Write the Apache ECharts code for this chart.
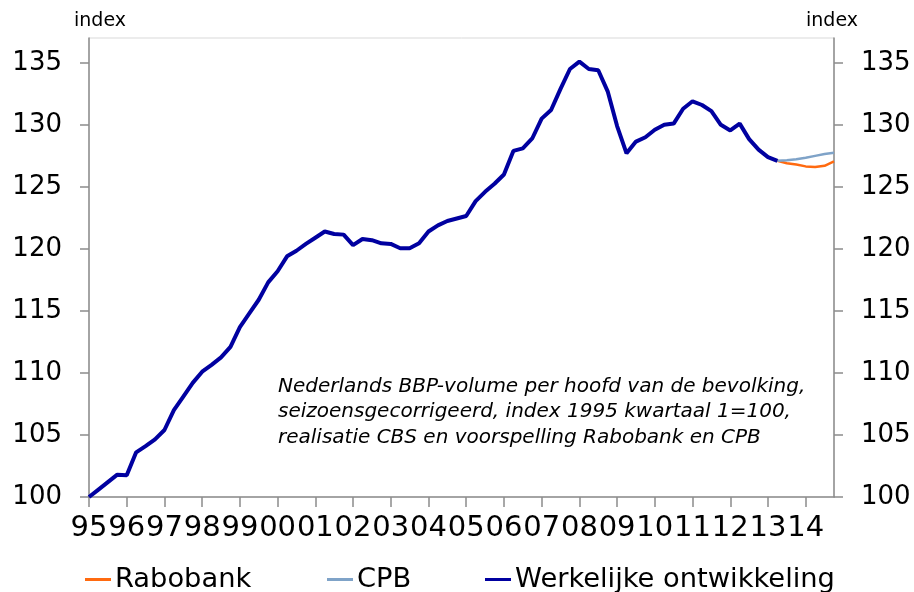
<!DOCTYPE html>
<html>
<head>
<meta charset="utf-8">
<title>BBP-volume per hoofd</title>
<script src="https://cdn.jsdelivr.net/npm/echarts@6/dist/echarts.min.js"></script>
<style>
  html, body { margin: 0; padding: 0; background: #fff; }
  #chart { width: 914px; height: 592px; }
</style>
</head>
<body>
<div id="chart"></div>
<script>
// Jaren op de horizontale as (twee cijfers) en kwartalen per jaar
var years = ['95','96','97','98','99','00','01','02','03','04','05','06','07','08','09','10','11','12','13','14'];
var quarters = ['K1','K2','K3','K4'];

// Realisatie CBS, 1995K1 t/m 2013K2 (index 1995K1 = 100)
var werkelijk = [
  100.0, 100.6, 101.2, 101.8,
  101.75, 103.6, 104.1, 104.65,
  105.4, 107.0, 108.1, 109.2,
  110.1, 110.65, 111.25, 112.1,
  113.7, 114.8, 115.9, 117.3,
  118.2, 119.4, 119.85, 120.4,
  120.9, 121.4, 121.2, 121.15,
  120.3, 120.8, 120.7, 120.45,
  120.4, 120.05, 120.05, 120.45,
  121.4, 121.9, 122.25, 122.45,
  122.65, 123.85, 124.6, 125.25,
  126.0, 127.9, 128.1, 128.9,
  130.5, 131.2, 132.9, 134.5,
  135.1, 134.5, 134.4, 132.7,
  129.9, 127.7, 128.65, 129.0,
  129.6, 130.0, 130.1, 131.3,
  131.9, 131.6, 131.1, 130.0,
  129.55, 130.1, 128.85, 128.0,
  127.4, 127.1
];

// Voorspellingen vanaf 2013K2 t/m 2014K4
var rabobank = [127.1, 126.9, 126.8, 126.65, 126.6, 126.7, 127.05];
var cpb      = [127.1, 127.15, 127.22, 127.35, 127.5, 127.65, 127.75];

// Y-as
var yMin = 100, yMax = 137, yStep = 5;

var annotationLines = [
  'Nederlands BBP-volume per hoofd van de bevolking,',
  'seizoensgecorrigeerd, index 1995 kwartaal 1=100,',
  'realisatie CBS en voorspelling Rabobank en CPB'
];

// Categorieën en reeksen opbouwen
var categories = [];
years.forEach(function (y) {
  quarters.forEach(function (q) { categories.push(y + q); });
});
var n = categories.length;
var startForecast = werkelijk.length - 1;

function padSeries(values, offset) {
  var out = [];
  for (var i = 0; i < n; i++) {
    var j = i - offset;
    out.push(j >= 0 && j < values.length ? values[j] : null);
  }
  return out;
}

var font = 'DejaVu Sans, Verdana, sans-serif';
var axisGray = '#8c8c8c';

var chart = echarts.init(document.getElementById('chart'), null, { renderer: 'canvas' });

var yAxisCommon = {
  type: 'value',
  min: yMin,
  max: yMax,
  interval: yStep,
  splitLine: { show: false },
  axisLine: { show: true, lineStyle: { color: axisGray, width: 1.5 } },
  axisTick: { show: true, inside: false, length: 9, lineStyle: { color: axisGray, width: 1.5 } },
  axisLabel: {
    showMaxLabel: false,
    fontFamily: font,
    fontSize: 26,
    color: '#000',
    margin: 27
  }
};

function legendAt(left, name) {
  return {
    left: left,
    top: 566,
    padding: 0,
    icon: 'rect',
    itemWidth: 26,
    itemHeight: 3,
    itemGap: 4,
    textStyle: { fontFamily: font, fontSize: 27.3, color: '#000', padding: [0, 0, 0, -1] },
    data: [name]
  };
}

chart.setOption({
  animation: false,
  backgroundColor: '#fff',
  grid: {
    left: 89,
    right: 80,
    top: 38,
    bottom: 95,
    show: true,
    borderColor: '#d9d9d9',
    borderWidth: 1
  },
  legend: [
    legendAt(85, 'Rabobank'),
    legendAt(327, 'CPB'),
    legendAt(485, 'Werkelijke ontwikkeling')
  ],
  xAxis: {
    type: 'category',
    data: categories,
    boundaryGap: false,
    axisLine: { show: true, lineStyle: { color: axisGray, width: 1.5 } },
    axisTick: {
      show: true,
      length: 10,
      interval: function (idx) { return idx % 4 === 0; },
      lineStyle: { color: axisGray, width: 1.5 }
    },
    axisLabel: {
      interval: function (idx) { return idx % 4 === 0; },
      formatter: function (v) { return v.slice(0, 2); },
      hideOverlap: false,
      showMinLabel: true,
      showMaxLabel: true,
      fontFamily: font,
      fontSize: 29,
      color: '#000',
      margin: 17
    },
    splitLine: { show: false }
  },
  yAxis: [
    Object.assign({ position: 'left' }, yAxisCommon),
    Object.assign({ position: 'right' }, yAxisCommon)
  ],
  graphic: [
    {
      type: 'text', left: 74, top: 12,
      style: { text: 'index', fontFamily: font, fontSize: 19, fill: '#000' }
    },
    {
      type: 'text', right: 56, top: 12,
      style: { text: 'index', fontFamily: font, fontSize: 19, fill: '#000' }
    },
    {
      type: 'text', left: 278, top: 374,
      style: {
        text: annotationLines.join('\n'),
        fontFamily: font, fontSize: 20, fontStyle: 'italic',
        lineHeight: 25.5, fill: '#000'
      }
    }
  ],
  series: [
    {
      name: 'Rabobank', type: 'line', yAxisIndex: 0,
      data: padSeries(rabobank, startForecast),
      showSymbol: false, symbol: 'none',
      lineStyle: { color: '#ff6a10', width: 2.5 },
      itemStyle: { color: '#ff6a10' },
      z: 2
    },
    {
      name: 'CPB', type: 'line', yAxisIndex: 0,
      data: padSeries(cpb, startForecast),
      showSymbol: false, symbol: 'none',
      lineStyle: { color: '#7fa3c8', width: 2.5 },
      itemStyle: { color: '#7fa3c8' },
      z: 2
    },
    {
      name: 'Werkelijke ontwikkeling', type: 'line', yAxisIndex: 0,
      data: padSeries(werkelijk, 0),
      showSymbol: false, symbol: 'none',
      lineStyle: { color: '#0000a0', width: 4 },
      itemStyle: { color: '#0000a0' },
      z: 3
    }
  ]
});
</script>
</body>
</html>
